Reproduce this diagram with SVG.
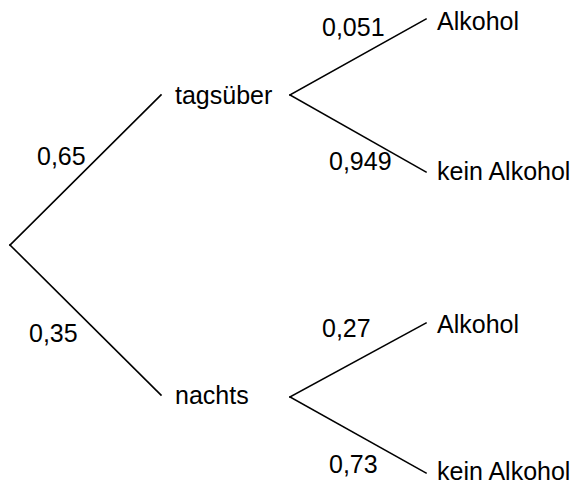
<svg xmlns="http://www.w3.org/2000/svg" width="576" height="484" viewBox="0 0 576 484">
  <style>
    text { font-family: "Liberation Sans", Arial, sans-serif; font-size: 25px; fill: #000; }
    .edge { stroke: #000; stroke-width: 1.6; fill: none; stroke-linecap: square; }
  </style>
  <rect width="576" height="484" fill="#fff"/>
  <g id="connectors">
    <line class="edge" x1="10" y1="245" x2="161" y2="95"/>
    <line class="edge" x1="10" y1="245" x2="161" y2="395"/>
    <line class="edge" x1="290" y1="95" x2="426" y2="19"/>
    <line class="edge" x1="290" y1="95" x2="426" y2="172"/>
    <line class="edge" x1="290" y1="397" x2="426" y2="323"/>
    <line class="edge" x1="290" y1="397" x2="426" y2="473"/>
  </g>
  <g id="edge-labels">
    <text x="37" y="165">0,65</text>
    <text x="29" y="342">0,35</text>
    <text x="322" y="36">0,051</text>
    <text x="329" y="170">0,949</text>
    <text x="322" y="337">0,27</text>
    <text x="329" y="473">0,73</text>
  </g>
  <g id="tagsueber"><text x="175" y="104">tagsüber</text></g>
  <g id="nachts"><text x="175" y="404">nachts</text></g>
  <g id="alkohol-tag"><text x="437" y="30">Alkohol</text></g>
  <g id="kein-alkohol-tag"><text x="437" y="180">kein Alkohol</text></g>
  <g id="alkohol-nacht"><text x="437" y="333">Alkohol</text></g>
  <g id="kein-alkohol-nacht"><text x="437" y="480">kein Alkohol</text></g>
</svg>
